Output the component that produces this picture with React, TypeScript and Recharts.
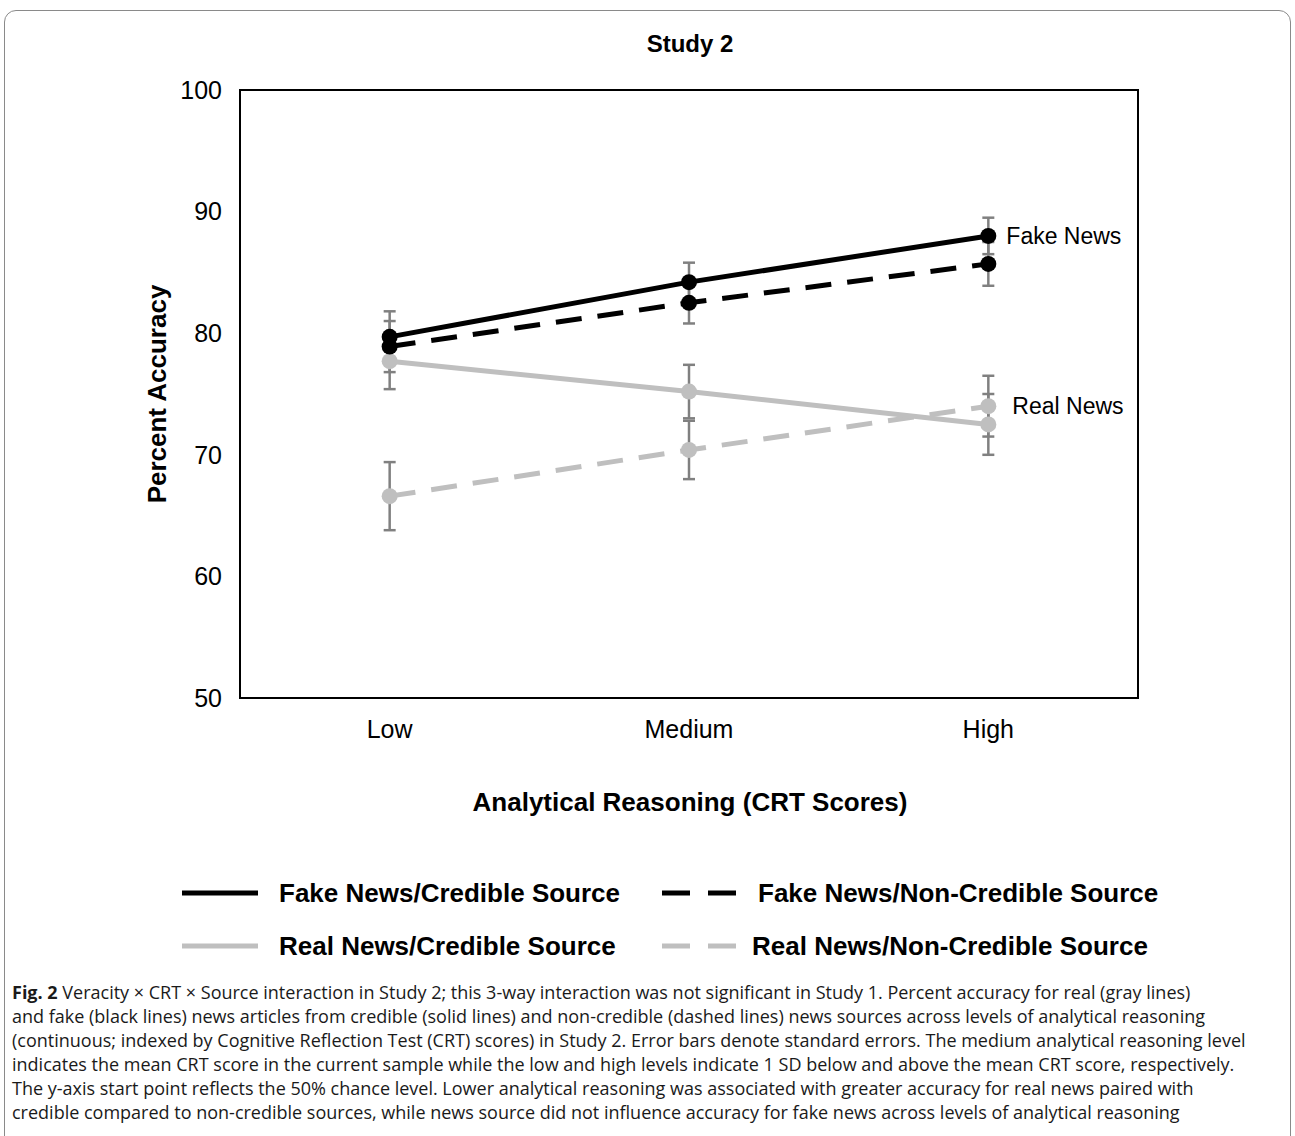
import React from "react";
import {
  LineChart,
  Line,
  XAxis,
  YAxis,
  ErrorBar,
  LabelList,
  ReferenceArea,
} from "recharts";

const categories = ["Low", "Medium", "High"];
const fakeCredible = [79.7, 84.2, 88.0];
const fakeCredibleSe = [2.1, 1.6, 1.5];
const fakeNonCredible = [78.9, 82.5, 85.7];
const fakeNonCredibleSe = [2.1, 1.7, 1.8];
const realCredible = [77.7, 75.2, 72.5];
const realCredibleSe = [2.3, 2.2, 2.5];
const realNonCredible = [66.6, 70.4, 74.0];
const realNonCredibleSe = [2.8, 2.4, 2.5];
const yTicks = [50, 60, 70, 80, 90, 100];

const captionLines = [
  "Veracity × CRT × Source interaction in Study 2; this 3-way interaction was not significant in Study 1. Percent accuracy for real (gray lines)",
  "and fake (black lines) news articles from credible (solid lines) and non-credible (dashed lines) news sources across levels of analytical reasoning",
  "(continuous; indexed by Cognitive Reflection Test (CRT) scores) in Study 2. Error bars denote standard errors. The medium analytical reasoning level",
  "indicates the mean CRT score in the current sample while the low and high levels indicate 1 SD below and above the mean CRT score, respectively.",
  "The y-axis start point reflects the 50% chance level. Lower analytical reasoning was associated with greater accuracy for real news paired with",
  "credible compared to non-credible sources, while news source did not influence accuracy for fake news across levels of analytical reasoning",
];

const data = categories.map((cat, i) => ({
  cat,
  fc: fakeCredible[i],
  fcErr: fakeCredibleSe[i],
  fn: fakeNonCredible[i],
  fnErr: fakeNonCredibleSe[i],
  rc: realCredible[i],
  rcErr: realCredibleSe[i],
  rn: realNonCredible[i],
  rnErr: realNonCredibleSe[i],
}));

const BLACK = "#000000";
const GRAY = "#bfbfbf";
const ERR = "#808080";
const FONT = "'Liberation Sans', Arial, sans-serif";

const endLabel = (text: string, dx: number) => (props: any) => {
  const { x, y, index } = props;
  if (index !== categories.length - 1) return null;
  return (
    <text x={x + dx} y={y} dominantBaseline="central" fontSize={23} fontFamily={FONT} fill="#000">
      {text}
    </text>
  );
};

const LegendItem = ({ color, dashed, label, textLeft }: { color: string; dashed: boolean; label: string; textLeft: number }) => (
  <div style={{ display: "flex", alignItems: "center", position: "relative", height: 30 }}>
    <svg width={80} height={10} style={{ display: "block" }}>
      <line
        x1={2}
        y1={5}
        x2={78}
        y2={5}
        stroke={color}
        strokeWidth={5}
        strokeDasharray={dashed ? "28 18" : undefined}
      />
    </svg>
    <span style={{ position: "absolute", left: textLeft, whiteSpace: "nowrap", fontWeight: "bold", fontSize: 26, fontFamily: FONT }}>
      {label}
    </span>
  </div>
);

export default function App() {
  return (
    <div style={{ position: "absolute", left: 0, top: 0, width: 1295, height: 1136, background: "#fff", overflow: "hidden" }}>
      <div
        style={{
          position: "absolute",
          left: 4,
          top: 10,
          width: 1285,
          height: 1200,
          border: "1.5px solid #8a8a8a",
          borderRadius: 12,
        }}
      />
      <div style={{ position: "absolute", left: 0, top: 30, width: 1380, textAlign: "center", fontSize: 24, fontWeight: "bold", fontFamily: FONT }}>
        Study 2
      </div>
      <div style={{ position: "absolute", left: 0, top: 0 }}>
        <LineChart width={1295} height={760} data={data} margin={{ top: 90, right: 157, bottom: 12, left: 180 }}>
          <XAxis
            dataKey="cat"
            scale="band"
            axisLine={{ stroke: BLACK, strokeWidth: 2 }}
            tickLine={false}
            tickSize={0}
            tickMargin={22}
            height={50}
            tick={{ fontSize: 25, fill: "#000", fontFamily: FONT }}
          />
          <YAxis
            domain={[50, 100]}
            ticks={yTicks}
            axisLine={{ stroke: BLACK, strokeWidth: 2 }}
            tickLine={false}
            tickSize={0}
            tickMargin={18}
            width={60}
            tick={{ fontSize: 25, fill: "#000", fontFamily: FONT }}
          />
          <ReferenceArea y1={50} y2={100} fill="none" fillOpacity={0} stroke={BLACK} strokeWidth={2} />
          <Line dataKey="rn" stroke={GRAY} strokeWidth={5} strokeDasharray="26 16" dot={{ r: 8, fill: GRAY, stroke: "none" }} isAnimationActive={false}>
            <ErrorBar dataKey="rnErr" direction="y" width={6} stroke={ERR} strokeWidth={2.5} />
            <LabelList dataKey="rn" content={endLabel("Real News", 24)} />
          </Line>
          <Line dataKey="rc" stroke={GRAY} strokeWidth={5} dot={{ r: 8, fill: GRAY, stroke: "none" }} isAnimationActive={false}>
            <ErrorBar dataKey="rcErr" direction="y" width={6} stroke={ERR} strokeWidth={2.5} />
          </Line>
          <Line dataKey="fn" stroke={BLACK} strokeWidth={5} strokeDasharray="26 16" dot={{ r: 8, fill: BLACK, stroke: "none" }} isAnimationActive={false}>
            <ErrorBar dataKey="fnErr" direction="y" width={6} stroke={ERR} strokeWidth={2.5} />
          </Line>
          <Line dataKey="fc" stroke={BLACK} strokeWidth={5} dot={{ r: 8, fill: BLACK, stroke: "none" }} isAnimationActive={false}>
            <ErrorBar dataKey="fcErr" direction="y" width={6} stroke={ERR} strokeWidth={2.5} />
            <LabelList dataKey="fc" content={endLabel("Fake News", 18)} />
          </Line>
        </LineChart>
      </div>
      <div
        style={{
          position: "absolute",
          left: 157,
          top: 394,
          transform: "translate(-50%, -50%) rotate(-90deg)",
          whiteSpace: "nowrap",
          fontSize: 26,
          fontWeight: "bold",
          fontFamily: FONT,
        }}
      >
        Percent Accuracy
      </div>
      <div style={{ position: "absolute", left: 0, top: 787, width: 1380, textAlign: "center", fontSize: 26, fontWeight: "bold", fontFamily: FONT }}>
        Analytical Reasoning (CRT Scores)
      </div>
      <div style={{ position: "absolute", left: 180, top: 878 }}>
        <LegendItem color={BLACK} dashed={false} label="Fake News/Credible Source" textLeft={99} />
      </div>
      <div style={{ position: "absolute", left: 660, top: 878 }}>
        <LegendItem color={BLACK} dashed={true} label="Fake News/Non-Credible Source" textLeft={98} />
      </div>
      <div style={{ position: "absolute", left: 180, top: 931 }}>
        <LegendItem color={GRAY} dashed={false} label="Real News/Credible Source" textLeft={99} />
      </div>
      <div style={{ position: "absolute", left: 660, top: 931 }}>
        <LegendItem color={GRAY} dashed={true} label="Real News/Non-Credible Source" textLeft={92} />
      </div>
      <div style={{ position: "absolute", left: 12, top: 980, fontFamily: "'Open Sans', 'Noto Sans', sans-serif", fontSize: 18, lineHeight: "24px", color: "#1a1a1a" }}>
        {captionLines.map((line, i) => (
          <div key={i} style={{ whiteSpace: "nowrap" }}>
            {i === 0 && <b>Fig. 2 </b>}
            {line}
          </div>
        ))}
      </div>
    </div>
  );
}
